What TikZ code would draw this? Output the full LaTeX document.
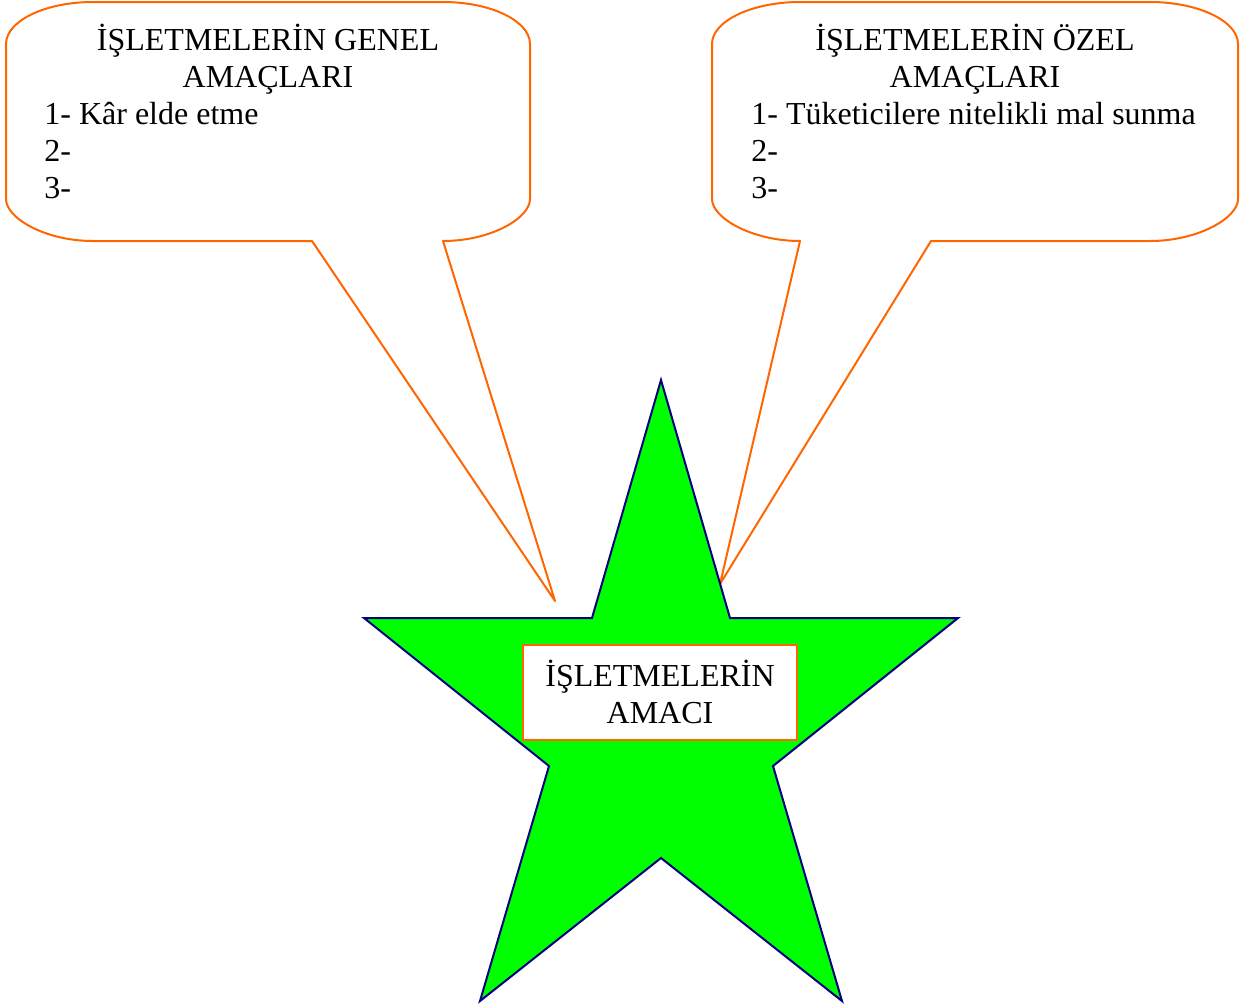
\documentclass[tikz,border=0pt]{standalone}
\usepackage{fontspec}
\setmainfont{Liberation Serif}
\usetikzlibrary{calc}
\definecolor{balloonorange}{RGB}{255,102,0}
\definecolor{stargreen}{RGB}{0,255,0}
\definecolor{starnavy}{RGB}{0,0,128}

\begin{document}
\begin{tikzpicture}[x=0.5pt, y=-0.5pt,
  balloon/.style={draw=balloonorange, line width=1pt, fill=white, line join=round},
  bigstar/.style={draw=starnavy, line width=1pt, fill=stargreen, line join=miter},
  yazi/.style={font=\fontsize{16}{18.5}\selectfont, inner sep=0pt},
  amackutu/.style={yazi, draw=balloonorange, line width=1pt, fill=white, align=center,
    minimum width=137pt, minimum height=47.5pt}]
  \useasboundingbox (0,0) rectangle (1242,1007);
  % General aims balloon
  \draw[balloon] (312,241) -- (555,601) -- (443,241)
    .. controls (491,241) and (530,218) .. (530,199) -- (530,44)
    .. controls (530,21) and (491,2) .. (443,2) -- (93,2)
    .. controls (45,2) and (6,21) .. (6,44) -- (6,199)
    .. controls (6,218) and (45,241) .. (93,241) -- cycle;
  \node[yazi, anchor=base, align=center] (genelbaslik) at (268,87) {İŞLETMELERİN GENEL\\AMAÇLARI};
  \node[yazi, anchor=base west, align=left] (genelliste) at (44,198) {1- Kâr elde etme\\2-\\3-};
  % Special aims balloon
  \draw[balloon] (800,241) -- (720,584) -- (931,241) -- (1150,241)
    .. controls (1198,241) and (1238,218) .. (1238,199) -- (1238,44)
    .. controls (1238,21) and (1198,2) .. (1150,2) -- (800,2)
    .. controls (752,2) and (712,21) .. (712,44) -- (712,199)
    .. controls (712,218) and (752,241) .. (800,241) -- cycle;
  \node[yazi, anchor=base, align=center] (ozelbaslik) at (975,87) {İŞLETMELERİN ÖZEL\\AMAÇLARI};
  \node[yazi, anchor=base west, align=left] (ozelliste) at (751,198) {1- Tüketicilere nitelikli mal sunma\\2-\\3-};
  % star
  \draw[bigstar] (661,380) -- (730,618) -- (958,618) -- (773,766) -- (842,1001)
    -- (661,858) -- (480,1001) -- (549,766) -- (364,618) -- (592,618) -- cycle;
  \node[amackutu] (amac) at (660,692) {İŞLETMELERİN\\AMACI};
\end{tikzpicture}
\end{document}
